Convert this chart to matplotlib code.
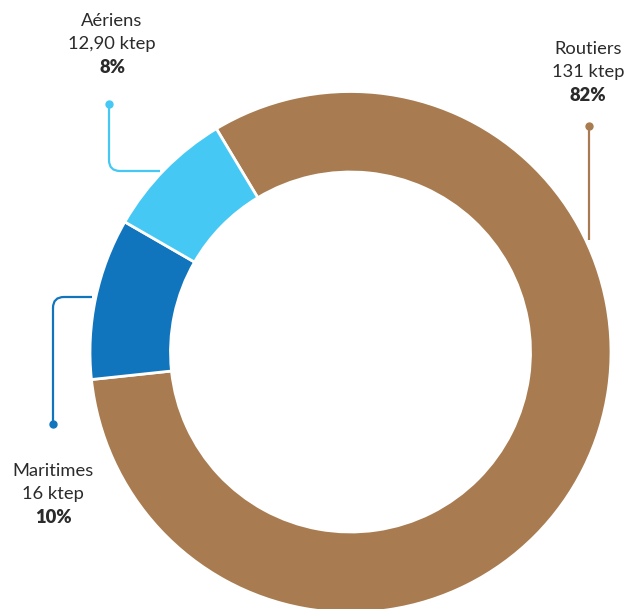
import matplotlib
matplotlib.use("Agg")
import matplotlib.pyplot as plt
from matplotlib.path import Path
from matplotlib.patches import PathPatch

# Energy consumption by transport mode (ktep)
categories = ["Routiers", "Maritimes", "Aériens"]
values = [131, 16, 12.90]
value_labels = ["131 ktep", "16 ktep", "12,90 ktep"]
percent_labels = ["82%", "10%", "8%"]
colors = ["#A87C50", "#1175BE", "#46C8F4"]

W, H = 626, 609
fig = plt.figure(figsize=(W / 100, H / 100), dpi=100)
ax = fig.add_axes([0, 0, 1, 1])

cx, cy, R = 350.5, H - 352, 260.5
ax.pie(values, colors=colors, startangle=121, counterclock=False,
       center=(cx, cy), radius=R, frame=True,
       wedgeprops=dict(width=80.5, edgecolor="white", linewidth=2))
ax.set_xlim(0, W)
ax.set_ylim(0, H)
ax.set_aspect("equal")
ax.axis("off")

txt = "#2b2b2b"
font = "Lato"
fs = 13.2


def label(x, y, i):
    ax.text(x, H - y, categories[i], ha="center", va="center",
            fontsize=fs, color=txt, family=font)
    ax.text(x, H - y - 23.5, value_labels[i], ha="center", va="center",
            fontsize=fs, color=txt, family=font)
    ax.text(x, H - y - 47, percent_labels[i], ha="center", va="center",
            fontsize=fs, color=txt, family=font, fontweight="heavy")


def leader(points, color, dot):
    # Connector from a label to its slice, with a rounded corner if bent
    if len(points) == 2:
        (x0, y0), (x1, y1) = points
        verts = [(x0, H - y0), (x1, H - y1)]
        codes = [Path.MOVETO, Path.LINETO]
    else:
        (x0, y0), (xc, yc), (x1, y1) = points
        r = 11

        def toward(a, b, d):
            dx, dy = b[0] - a[0], b[1] - a[1]
            n = (dx * dx + dy * dy) ** 0.5
            return (a[0] + dx / n * d, a[1] + dy / n * d)
        p_in = toward((xc, yc), (x0, y0), r)
        p_out = toward((xc, yc), (x1, y1), r)
        verts = [(x0, H - y0), (p_in[0], H - p_in[1]), (xc, H - yc),
                 (p_out[0], H - p_out[1]), (x1, H - y1)]
        codes = [Path.MOVETO, Path.LINETO, Path.CURVE3, Path.CURVE3, Path.LINETO]
    ax.add_patch(PathPatch(Path(verts, codes), fill=False, edgecolor=color,
                           linewidth=1.6, capstyle="butt"))
    ax.plot(dot[0], H - dot[1], "o", color=color, markersize=5)


label(112, 20.5, 2)
leader([(109, 104), (109, 171), (160, 171)], colors[2], (109, 104))

label(588, 48.5, 0)
leader([(589, 126), (589, 240)], colors[0], (589, 126))

label(53, 470.5, 1)
leader([(92, 297), (53, 297), (53, 424)], colors[1], (53, 424))

fig.savefig("out.png", dpi=100, facecolor="white")
